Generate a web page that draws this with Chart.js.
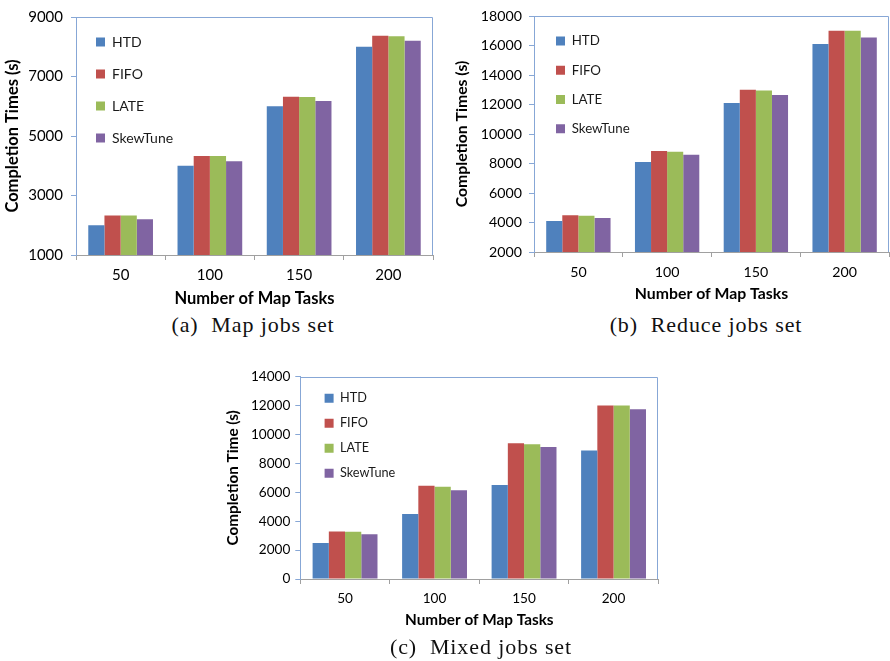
<!DOCTYPE html>
<html>
<head>
<meta charset="utf-8">
<script src="https://cdn.jsdelivr.net/npm/chart.js@4/dist/chart.umd.min.js"></script>
<style>
  html, body { margin: 0; padding: 0; background: #ffffff; }
  #page { position: relative; width: 890px; height: 661px; overflow: hidden; background: #ffffff; }
  canvas { position: absolute; }
  .cap {
    position: absolute; transform: translate(-50%, -50%);
    font-family: "Liberation Serif", "DejaVu Serif", serif; font-size: 22px;
    letter-spacing: 0.9px; color: #111; white-space: pre;
  }
</style>
</head>
<body>
<div id="page">
  <canvas id="mapChart" width="440" height="310" style="left:0px;top:0px;width:440px;height:310px"></canvas>
  <canvas id="reduceChart" width="445" height="310" style="left:445px;top:0px;width:445px;height:310px"></canvas>
  <canvas id="mixedChart" width="450" height="275" style="left:220px;top:360px;width:450px;height:275px"></canvas>
  <div class="cap" style="left:253px;top:325px">(a)  Map jobs set</div>
  <div class="cap" style="left:706px;top:325px">(b)  Reduce jobs set</div>
  <div class="cap" style="left:481px;top:647px">(c)  Mixed jobs set</div>
</div>
<script>
// Number of map tasks per run
const categories = ['50', '100', '150', '200'];
const schedulers = ['HTD', 'FIFO', 'LATE', 'SkewTune'];

// (a) Map jobs set — completion times in seconds
const mapHTD      = [2000, 4000, 6000, 8000];
const mapFIFO     = [2330, 4330, 6320, 8370];
const mapLATE     = [2330, 4330, 6310, 8350];
const mapSkewTune = [2200, 4150, 6180, 8200];
const mapTicks    = [1000, 3000, 5000, 7000, 9000];

// (b) Reduce jobs set
const reduceHTD      = [4100, 8100, 12100, 16100];
const reduceFIFO     = [4500, 8850, 13000, 17000];
const reduceLATE     = [4450, 8800, 12950, 17000];
const reduceSkewTune = [4300, 8600, 12650, 16550];
const reduceTicks    = [2000, 4000, 6000, 8000, 10000, 12000, 14000, 16000, 18000];

// (c) Mixed jobs set
const mixedHTD      = [2500, 4500, 6500, 8900];
const mixedFIFO     = [3280, 6450, 9400, 12000];
const mixedLATE     = [3270, 6380, 9330, 12000];
const mixedSkewTune = [3100, 6150, 9130, 11750];
const mixedTicks    = [0, 2000, 4000, 6000, 8000, 10000, 12000, 14000];

const seriesColors = ['#4F81BD', '#C0504D', '#9BBB59', '#8064A2'];
const frameBlue = '#87A7D6';
const axisGray = '#A0A0A0';

// Blue frame on the top and right sides of the plot area
const plotFrame = {
  id: 'plotFrame',
  afterDatasetsDraw(chart) {
    const { ctx, chartArea: a } = chart;
    ctx.save();
    ctx.strokeStyle = frameBlue;
    ctx.lineWidth = 1;
    ctx.beginPath();
    ctx.moveTo(Math.round(a.left) + 0.5, Math.round(a.top) + 0.5);
    ctx.lineTo(Math.round(a.right) - 0.5, Math.round(a.top) + 0.5);
    ctx.lineTo(Math.round(a.right) - 0.5, Math.round(a.bottom));
    ctx.stroke();
    ctx.restore();
  }
};

// Keeps the legend inside the plot area, offset from its top-left corner
const legendInPlot = {
  id: 'legendInPlot',
  afterLayout(chart, args, opts) {
    const lg = chart.legend, a = chart.chartArea;
    if (!lg) return;
    const h = a.bottom - a.top;
    lg.left = a.left + opts.x;
    lg.right = lg.left + lg.width;
    lg.top = a.top + opts.y;
    lg.height = h;
    lg.bottom = lg.top + h;
  }
};

function buildChart(id, series, ticks, yTitle, s) {
  const datasets = series.map((values, i) => ({
    label: schedulers[i],
    data: values,
    backgroundColor: seriesColors[i],
    borderWidth: 0,
    categoryPercentage: 0.725,
    barPercentage: 1.0
  }));
  return new Chart(document.getElementById(id), {
    type: 'bar',
    data: { labels: categories, datasets },
    plugins: [plotFrame, legendInPlot],
    options: {
      responsive: false,
      animation: false,
      devicePixelRatio: 1,
      layout: { padding: { top: s.top, right: s.right, bottom: 0, left: 0 } },
      plugins: {
        title: { display: false },
        tooltip: { enabled: false },
        legend: {
          display: true,
          position: 'chartArea',
          align: 'start',
          labels: {
            boxWidth: 9, boxHeight: 9,
            padding: s.legPad,
            color: '#1a1a1a',
            font: { family: 'Lato', size: s.legFont }
          }
        },
        legendInPlot: { x: s.legX, y: s.legY }
      },
      scales: {
        x: {
          grid: { drawOnChartArea: false, drawTicks: true, tickLength: 5, color: axisGray, offset: true },
          border: { color: axisGray, width: 1 },
          ticks: { color: '#000', padding: s.xTickPad, font: { family: 'Lato', size: s.tickFont, lineHeight: 1.2 } },
          title: {
            display: true, text: 'Number of Map Tasks', color: '#000',
            padding: { top: 0, bottom: s.xTitlePad },
            font: { family: 'Lato', weight: 'bold', size: s.titleFont, lineHeight: 1.2 }
          },
          afterFit(scale) { scale.height = s.xHeight; }
        },
        y: {
          min: ticks[0],
          max: ticks[ticks.length - 1],
          afterBuildTicks(scale) { scale.ticks = ticks.map(v => ({ value: v })); },
          grid: { drawOnChartArea: false, drawTicks: true, tickLength: 5, color: frameBlue },
          border: { color: frameBlue, width: 1 },
          ticks: {
            color: '#000', padding: s.yTickPad,
            font: { family: 'Lato', size: s.tickFont, lineHeight: 1.2 },
            callback: (v) => String(v)
          },
          title: {
            display: true, text: yTitle, color: '#000',
            padding: { top: s.yTitlePad, bottom: 0 },
            font: { family: 'Lato', weight: 'bold', size: s.titleFont, lineHeight: 1.2 }
          },
          afterFit(scale) { scale.width = s.yWidth; }
        }
      }
    }
  });
}

buildChart('mapChart', [mapHTD, mapFIFO, mapLATE, mapSkewTune], mapTicks, 'Completion Times (s)', {
  top: 12, right: 7, yWidth: 76, xHeight: 55,
  tickFont: 15, titleFont: 16.5, legFont: 14, legPad: 18, legX: 2, legY: 0,
  xTickPad: 6, yTickPad: 8, xTitlePad: 1, yTitlePad: 3
});

buildChart('reduceChart', [reduceHTD, reduceFIFO, reduceLATE, reduceSkewTune], reduceTicks, 'Completion Times (s)', {
  top: 16, right: 1, yWidth: 89, xHeight: 58,
  tickFont: 14.2, titleFont: 15.8, legFont: 13.3, legPad: 16, legX: 6, legY: 2.3,
  xTickPad: 6.5, yTickPad: 7, xTitlePad: 6.5, yTitlePad: 7.5
});

buildChart('mixedChart', [mixedHTD, mixedFIFO, mixedLATE, mixedSkewTune], mixedTicks, 'Completion Time (s)', {
  top: 16.7, right: 11.7, yWidth: 80.3, xHeight: 56,
  tickFont: 13.6, titleFont: 15.3, legFont: 12.7, legPad: 12.3, legX: 12, legY: 3,
  xTickPad: 6.2, yTickPad: 5, xTitlePad: 5.8, yTitlePad: 3.5
});
</script>
</body>
</html>
